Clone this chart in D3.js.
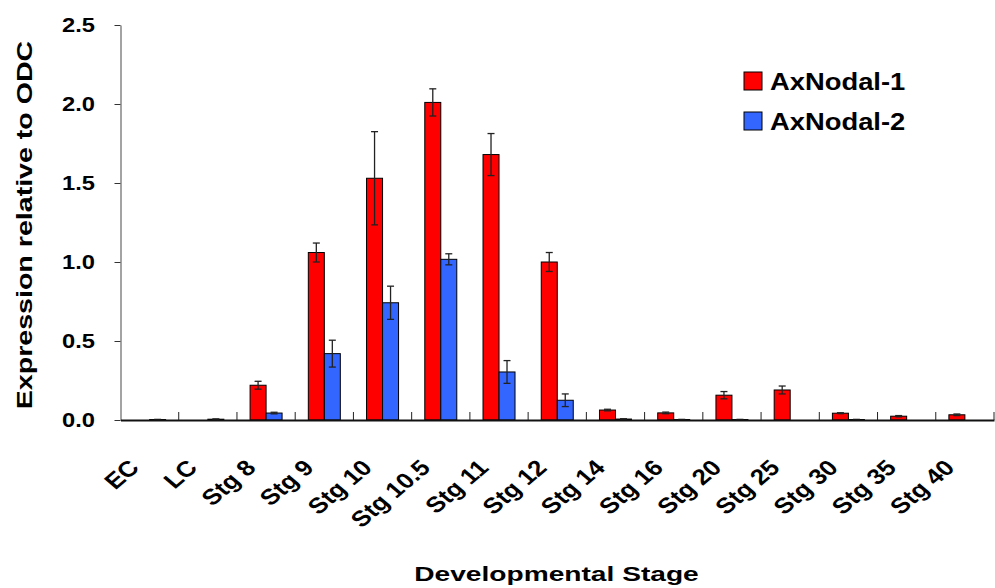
<!DOCTYPE html>
<html>
<head>
<meta charset="utf-8">
<script src="https://cdn.jsdelivr.net/npm/d3@7"></script>
<style>
    body { margin: 0; background: #fff; }
    text { font-family: "Liberation Sans", Arial, sans-serif; font-weight: bold; }
</style>
</head>
<body>
<div id="chart"></div>
<script>
const categories = ["EC", "LC", "Stg 8", "Stg 9", "Stg 10", "Stg 10.5", "Stg 11", "Stg 12",
    "Stg 14", "Stg 16", "Stg 20", "Stg 25", "Stg 30", "Stg 35", "Stg 40"];
const seriesNames = ["AxNodal-1", "AxNodal-2"];
const nodal1 = [0, 0, 0.22, 1.06, 1.53, 2.01, 1.68, 1.00, 0.063, 0.045, 0.157, 0.19, 0.043, 0.024, 0.033];
const nodal1Err = [0, 0, 0.025, 0.06, 0.295, 0.086, 0.133, 0.06, 0.005, 0.005, 0.023, 0.025, 0.003, 0.004, 0.005];
const nodal2 = [0.003, 0.005, 0.044, 0.42, 0.742, 1.017, 0.304, 0.125, 0.006, 0.003, 0.003, 0, 0.003, 0, 0];
const nodal2Err = [0.001, 0.002, 0.005, 0.085, 0.105, 0.035, 0.072, 0.04, 0.002, 0.001, 0.001, 0, 0.001, 0, 0];
const yTicks = [0, 0.5, 1.0, 1.5, 2.0, 2.5];
const colors = ["#ff0000", "#3366ff"];

const W = 995, H = 588;
const plotLeft = 120.5, plotRight = 994, plotTop = 25, plotBottom = 420;

const svg = d3.select("#chart").append("svg")
    .attr("width", W)
    .attr("height", H);

const x = d3.scaleBand().domain(categories).range([plotLeft, plotRight]).padding(0);
const x1 = d3.scaleBand().domain(seriesNames).range([0, 32]).padding(0);
const y = d3.scaleLinear().domain([0, 2.5]).range([plotBottom, plotTop]);

const rows = [];
categories.forEach((c, i) => {
    rows.push({ cat: c, s: seriesNames[0], v: nodal1[i], e: nodal1Err[i], col: colors[0] });
    rows.push({ cat: c, s: seriesNames[1], v: nodal2[i], e: nodal2Err[i], col: colors[1] });
});
const barX = d => x(d.cat) + (x.bandwidth() - 32) / 2 + x1(d.s);

// bars
svg.append("g").selectAll("rect")
    .data(rows.filter(d => d.v > 0))
    .enter().append("rect")
    .attr("x", d => barX(d))
    .attr("y", d => y(d.v))
    .attr("width", x1.bandwidth())
    .attr("height", d => plotBottom - y(d.v))
    .attr("fill", d => d.col)
    .attr("stroke", "#000")
    .attr("stroke-width", 1);

// error bars
const eg = svg.append("g").attr("stroke", "#222").attr("stroke-width", 1.3);
rows.filter(d => d.e > 0).forEach(d => {
    const cx = barX(d) + x1.bandwidth() / 2;
    eg.append("line").attr("x1", cx).attr("x2", cx).attr("y1", y(d.v - d.e)).attr("y2", y(d.v + d.e));
    eg.append("line").attr("x1", cx - 3.5).attr("x2", cx + 3.5).attr("y1", y(d.v + d.e)).attr("y2", y(d.v + d.e));
    eg.append("line").attr("x1", cx - 3.5).attr("x2", cx + 3.5).attr("y1", y(d.v - d.e)).attr("y2", y(d.v - d.e));
});

// y axis
const yAxis = svg.append("g")
    .attr("transform", `translate(${plotLeft},0)`)
    .call(d3.axisLeft(y).tickValues(yTicks).tickFormat(d3.format(".1f")).tickSizeInner(6).tickSizeOuter(0));
yAxis.select(".domain").attr("stroke", "#666").attr("stroke-width", 1.2);
yAxis.selectAll(".tick line").attr("stroke", "#333");
yAxis.selectAll(".tick text")
    .attr("x", 0)
    .attr("transform", "translate(-25.5,0) scale(1.13,1)")
    .attr("font-size", 21)
    .attr("fill", "#000");

// x axis: ticks between categories, pointing up
const xAxis = svg.append("g")
    .attr("transform", `translate(0,${plotBottom})`)
    .call(d3.axisBottom(x).tickSizeInner(-8).tickSizeOuter(0).tickFormat(""));
xAxis.select(".domain").attr("stroke", "#111").attr("stroke-width", 2);
xAxis.selectAll(".tick line")
    .attr("transform", `translate(${x.bandwidth() / 2},0)`)
    .attr("stroke", "#222");

svg.append("g").selectAll("text")
    .data(categories)
    .enter().append("text")
    .attr("transform", d => `translate(${x(d) + x.bandwidth() / 2 - 9},${plotBottom + 49}) scale(1.18,1) rotate(-45)`)
    .attr("text-anchor", "end")
    .attr("font-size", 22)
    .text(d => d);

// axis titles
svg.append("text")
    .attr("transform", "translate(556.5,581) scale(1.34,1)")
    .attr("text-anchor", "middle")
    .attr("font-size", 21)
    .text("Developmental Stage");

svg.append("text")
    .attr("transform", "translate(31.5,225) rotate(-90) scale(1.3,1)")
    .attr("text-anchor", "middle")
    .attr("font-size", 22)
    .text("Expression relative to ODC");

// legend
const lg = svg.append("g").attr("transform", "translate(744,72)");
seriesNames.forEach((s, i) => {
    lg.append("rect")
        .attr("x", 0).attr("y", i * 40)
        .attr("width", 18).attr("height", 18)
        .attr("fill", colors[i])
        .attr("stroke", "#000");
    lg.append("text")
        .attr("transform", `translate(26,${i * 40 + 17.5}) scale(1.19,1)`)
        .attr("font-size", 23)
        .text(s);
});
</script>
</body>
</html>
